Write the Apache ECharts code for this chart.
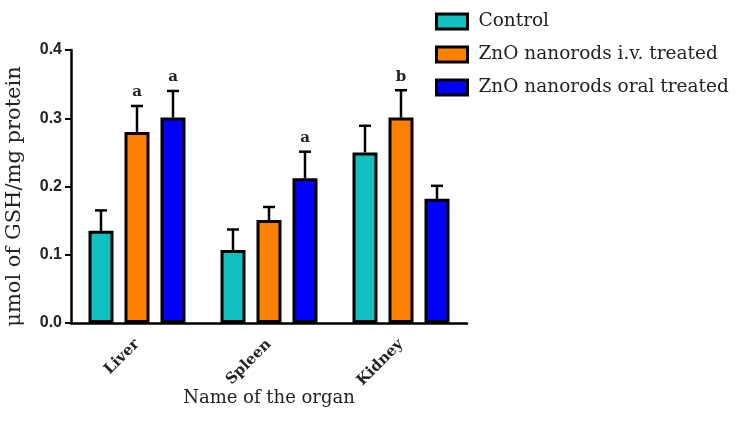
<!DOCTYPE html>
<html>
<head>
<meta charset="utf-8">
<script src="https://cdn.jsdelivr.net/npm/echarts@6/dist/echarts.min.js"></script>
<style>
  html, body { margin: 0; padding: 0; background: #fff; }
  #chart { width: 737px; height: 435px; }
</style>
</head>
<body>
<div id="chart"></div>
<script>
// organs on the x axis
const organs = ['Liver', 'Spleen', 'Kidney']
const seriesNames = ['Control', 'ZnO nanorods i.v. treated', 'ZnO nanorods oral treated']
const seriesColors = ['#12bfbf', '#ff8000', '#0000ff']

// mean values (µmol GSH / mg protein)
const controlMean = [0.135, 0.107, 0.250]
const ivMean = [0.280, 0.151, 0.301]
const oralMean = [0.301, 0.212, 0.182]

// upper end of the error bars
const controlErr = [0.165, 0.137, 0.289]
const ivErr = [0.318, 0.170, 0.341]
const oralErr = [0.340, 0.251, 0.201]

// significance letters above bars
const controlMarks = ['', '', '']
const ivMarks = ['a', '', 'b']
const oralMarks = ['a', 'a', '']

const yTicks = ['0.0', '0.1', '0.2', '0.3', '0.4']

const means = [controlMean, ivMean, oralMean]
const errs = [controlErr, ivErr, oralErr]
const marks = [controlMarks, ivMarks, oralMarks]

const barW = 25
const gapPx = 11
const serif = 'DejaVu Serif'

let chart = echarts.init(document.getElementById('chart'))

const barSeries = seriesNames.map((name, s) => ({
  name: name,
  type: 'bar',
  data: means[s],
  barWidth: barW,
  barGap: (gapPx / barW * 100) + '%',
  itemStyle: { color: seriesColors[s], borderColor: '#000', borderWidth: 3 },
  z: 2
}))

const errSeries = seriesNames.map((name, s) => ({
  type: 'custom',
  name: name + ' err',
  data: organs.map((o, i) => [i, means[s][i], errs[s][i]]),
  encode: { x: 0, y: 2 },
  z: 3,
  silent: true,
  renderItem(params, api) {
    const i = api.value(0)
    const off = (s - 1) * (barW + gapPx)
    const base = api.coord([i, api.value(1)])
    const top = api.coord([i, api.value(2)])
    const x = base[0] + off
    const children = [
      { type: 'line', shape: { x1: x, y1: base[1], x2: x, y2: top[1] }, style: { stroke: '#000', lineWidth: 2.5 } },
      { type: 'line', shape: { x1: x - 6, y1: top[1], x2: x + 6, y2: top[1] }, style: { stroke: '#000', lineWidth: 2.5 } }
    ]
    const m = marks[s][params.dataIndex]
    if (m) {
      children.push({
        type: 'text',
        style: {
          text: m, x: x, y: top[1] - 6, align: 'center', verticalAlign: 'bottom',
          font: 'bold 15px ' + serif, fill: '#222'
        }
      })
    }
    return { type: 'group', children: children }
  }
}))

const option = {
  animation: false,
  backgroundColor: '#fff',
  grid: { left: 71, right: 270, top: 50, bottom: 112, outerBoundsMode: 'none' },
  legend: {
    data: seriesNames,
    orient: 'vertical',
    left: 430,
    top: 7,
    icon: 'rect',
    itemWidth: 31,
    itemHeight: 15,
    itemGap: 14,
    itemStyle: { borderColor: '#000', borderWidth: 3 },
    textStyle: { fontFamily: serif, fontSize: 18.5, color: '#222', padding: [0, 0, 0, 6] }
  },
  xAxis: {
    type: 'category',
    data: organs,
    name: 'Name of the organ',
    nameLocation: 'middle',
    nameGap: 66,
    nameMoveOverlap: false,
    nameTextStyle: { fontFamily: serif, fontSize: 18, color: '#222' },
    axisLine: { lineStyle: { color: '#000', width: 2.5 } },
    axisTick: { alignWithLabel: true, length: 6, lineStyle: { width: 2 } },
    axisLabel: { rotate: 45, fontFamily: serif, fontWeight: 'bold', fontSize: 15, color: '#222', margin: 19 }
  },
  yAxis: {
    type: 'value',
    min: 0,
    max: 0.4,
    interval: 0.1,
    name: 'μmol of GSH/mg protein',
    nameLocation: 'middle',
    nameGap: 46,
    nameTextStyle: { fontFamily: serif, fontSize: 21, color: '#222', padding: [0, 20, 0, 0] },
    axisLine: { show: true, lineStyle: { color: '#000', width: 2.5 } },
    axisTick: { show: true, length: 6, lineStyle: { width: 2 } },
    splitLine: { show: false },
    axisLabel: {
      fontFamily: 'Liberation Sans', fontWeight: 'bold', fontSize: 16, color: '#222', margin: 9,
      formatter: (v) => yTicks[Math.round(v * 10)]
    }
  },
  series: barSeries.concat(errSeries)
}

chart.setOption(option)
</script>
</body>
</html>
